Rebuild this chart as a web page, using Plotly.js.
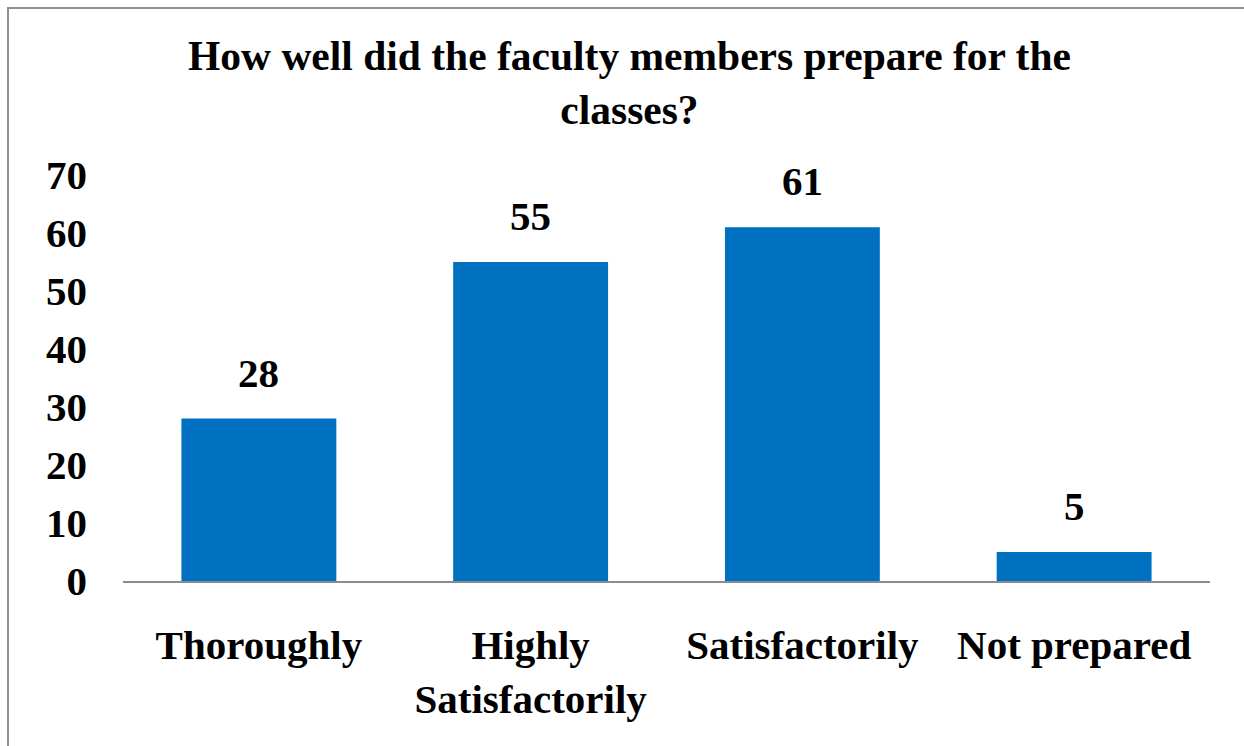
<!DOCTYPE html>
<html>
<head>
<meta charset="utf-8">
<script src="https://cdn.plot.ly/plotly-3.0.1.min.js"></script>
<style>
html,body{margin:0;padding:0;width:1244px;height:746px;overflow:hidden;background:#fff;}
#frame{position:absolute;left:7px;top:7px;width:1400px;height:900px;border:2px solid #8f8f8f;box-sizing:border-box;}
#chart{position:absolute;left:0;top:0;width:1244px;height:746px;}
</style>
</head>
<body>
<div id="frame"></div>
<div id="chart"></div>
<script>
const categories = ["Thoroughly", "Highly<br>Satisfactorily", "Satisfactorily", "Not prepared"];
const values = [28, 55, 61, 5];
const yTicks = [0, 10, 20, 30, 40, 50, 60, 70];
const titleText = "How well did the faculty members prepare for the<br>classes?";

const fontFamily = '"Liberation Serif", "Times New Roman", serif';

const trace = {
  type: 'bar',
  x: categories,
  y: values,
  marker: {color: '#0070C0'},
  hoverinfo: 'x+y'
};

const annotations = categories.map((c, i) => ({
  x: c, y: values[i], xref: 'x', yref: 'y',
  text: String(values[i]), showarrow: false,
  yanchor: 'bottom', yshift: 21,
  font: {family: fontFamily, size: 41, color: '#000', weight: 'bold'}
}));

const layout = {
  width: 1244, height: 746,
  margin: {l: 123, r: 34, t: 175, b: 165},
  paper_bgcolor: 'rgba(0,0,0,0)',
  plot_bgcolor: 'rgba(0,0,0,0)',
  showlegend: false,
  bargap: 0.43,
  font: {family: fontFamily, color: '#000'},
  title: {
    text: titleText,
    font: {family: fontFamily, size: 41.5, color: '#000', weight: 'bold'},
    x: 0.506, xanchor: 'center',
    y: 0.906, yanchor: 'middle'
  },
  xaxis: {
    type: 'category',
    showline: true, linecolor: '#8c8c8c', linewidth: 2,
    showgrid: false, zeroline: false,
    ticks: '',
    tickfont: {family: fontFamily, size: 41, color: '#000', weight: 'bold'},
    ticklabelstandoff: 27
  },
  yaxis: {
    range: [0, 70],
    tickvals: yTicks,
    ticktext: yTicks.map(String),
    showgrid: false, zeroline: false, showline: false,
    ticks: '',
    tickfont: {family: fontFamily, size: 41, color: '#000', weight: 'bold'},
    ticklabelstandoff: 35
  },
  annotations: annotations
};

Plotly.newPlot('chart', [trace], layout, {displayModeBar: false, staticPlot: true});
</script>
</body>
</html>
